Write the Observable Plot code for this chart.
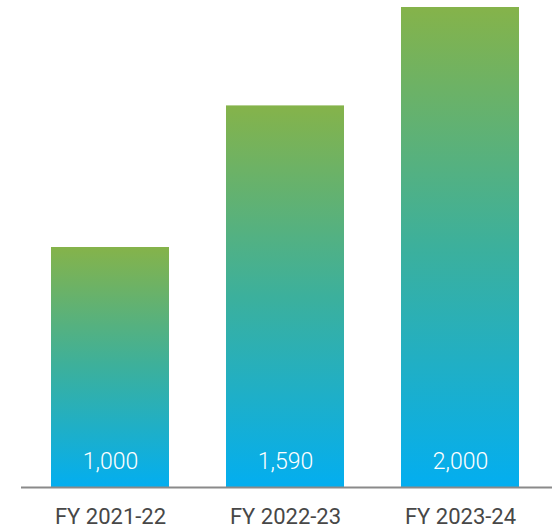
<!DOCTYPE html>
<html>
<head>
<meta charset="utf-8">
<script src="https://cdn.jsdelivr.net/npm/d3@7"></script>
<script src="https://cdn.jsdelivr.net/npm/@observablehq/plot@0.6"></script>
<style>
  html, body { margin: 0; padding: 0; background: #fff; }
  #chart { width: 552px; height: 528px; }
</style>
</head>
<body>
<div id="chart"></div>
<script>
const categories = ["FY 2021-22", "FY 2022-23", "FY 2023-24"];
const values = [1000, 1590, 2000];
const valueLabels = ["1,000", "1,590", "2,000"];

const data = categories.map((c, i) => ({category: c, value: values[i], label: valueLabels[i]}));

const defs = () => {
  const d = d3.create("svg:defs");
  const g = d.append("linearGradient")
    .attr("id", "barGrad")
    .attr("x1", 0).attr("y1", 0).attr("x2", 0).attr("y2", 1);
  g.append("stop").attr("offset", "0%").attr("stop-color", "#85b34a");
  g.append("stop").attr("offset", "50%").attr("stop-color", "#3cb09c");
  g.append("stop").attr("offset", "100%").attr("stop-color", "#03aef0");
  return d.node();
};

const chart = Plot.plot({
  width: 552,
  height: 528,
  marginLeft: 21,
  marginRight: 0,
  marginTop: 7,
  marginBottom: 41,
  style: {fontFamily: "Roboto, sans-serif", background: "#fff"},
  x: {domain: categories, range: [51, 519], paddingInner: 0.326, paddingOuter: 0, axis: null},
  y: {domain: [0, 2000], range: [487, 7], axis: null},
  marks: [
    defs,
    Plot.barY(data, {x: "category", y: "value", fill: "url(#barGrad)"}),
    Plot.ruleY([0], {stroke: "#8a8a8a", strokeWidth: 2}),
    Plot.text(data, {x: "category", y: 0, text: "label", dy: -26, fill: "#fff", fontSize: 23, fontWeight: 300, fontFamily: "Roboto, sans-serif"}),
    Plot.text(data, {x: "category", y: 0, text: "category", dy: 29, fill: "#474747", fontSize: 22, fontWeight: 400, fontFamily: "Roboto, sans-serif"})
  ]
});
document.getElementById("chart").append(chart);
</script>
</body>
</html>
